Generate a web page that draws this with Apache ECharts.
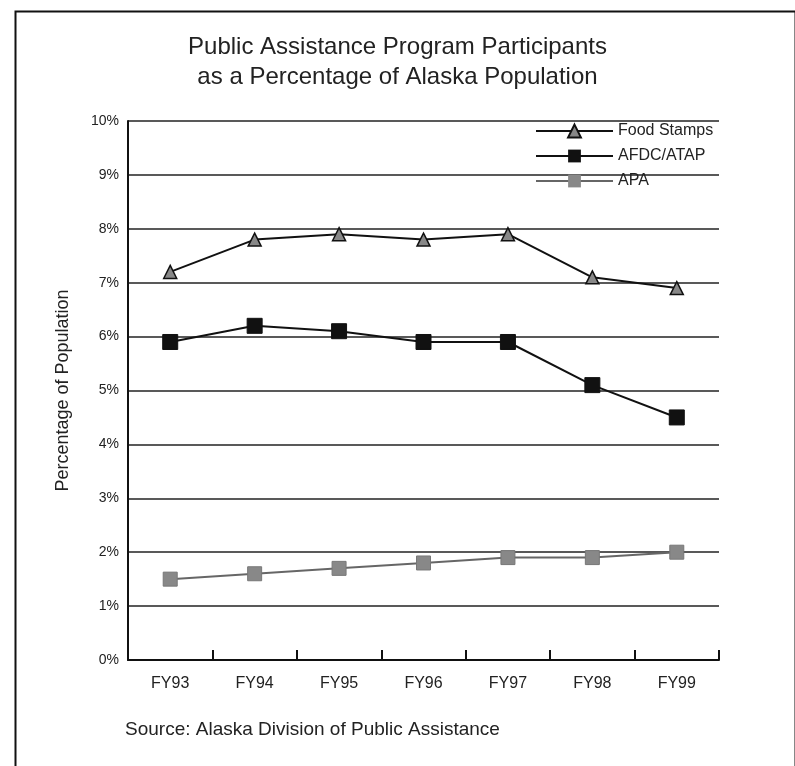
<!DOCTYPE html>
<html><head><meta charset="utf-8">
<script src="https://cdn.jsdelivr.net/npm/echarts@6/dist/echarts.min.js"></script>
<style>html,body{margin:0;padding:0;background:#fff}#c{width:795px;height:766px}</style>
</head><body><div id="c"></div>
<script>
var categories = ['FY93','FY94','FY95','FY96','FY97','FY98','FY99'];
var foodStamps = [7.2, 7.8, 7.9, 7.8, 7.9, 7.1, 6.9];
var afdcAtap   = [5.9, 6.2, 6.1, 5.9, 5.9, 5.1, 4.5];
var apa        = [1.5, 1.6, 1.7, 1.8, 1.9, 1.9, 2.0];
var seriesNames = ['Food Stamps','AFDC/ATAP','APA'];

var chart = echarts.init(document.getElementById('c'));
var font = 'Liberation Sans, Arial, sans-serif';
chart.setOption({
  backgroundColor: '#fff',
  animation: false,
  title: {
    text: 'Public Assistance Program Participants\nas a Percentage of Alaska Population',
    left: 'center', top: 27,
    textStyle: { fontFamily: font, fontSize: 24, fontWeight: 'normal', color: '#222', lineHeight: 30 }
  },
  legend: {
    orient: 'vertical', left: 530, top: 118, itemWidth: 77, itemHeight: 16, itemGap: 9,
    data: seriesNames,
    textStyle: { fontFamily: font, fontSize: 16, color: '#222' }
  },
  grid: { left: 128, right: 76, top: 121, bottom: 106 },
  xAxis: {
    type: 'category', data: categories, boundaryGap: true,
    axisLine: { lineStyle: { color: '#111', width: 2 } },
    axisTick: { show: true, inside: true, length: 10, lineStyle: { color: '#111', width: 2 } },
    axisLabel: { fontFamily: font, fontSize: 16, color: '#222', margin: 16 }
  },
  yAxis: {
    type: 'value', min: 0, max: 10, interval: 1,
    name: 'Percentage of Population', nameLocation: 'middle', nameGap: 56, nameRotate: 90,
    nameTextStyle: { fontFamily: font, fontSize: 18, color: '#222' },
    axisLine: { show: true, lineStyle: { color: '#111', width: 2 } },
    axisTick: { show: false },
    axisLabel: { fontFamily: font, fontSize: 14, color: '#222', formatter: '{value}%', margin: 9 },
    splitLine: { lineStyle: { color: '#222', width: 1.5 } }
  },
  series: [
    { name: seriesNames[0], type: 'line', data: foodStamps, symbol: 'triangle', symbolSize: 13,
      lineStyle: { color: '#111', width: 2 }, itemStyle: { color: '#888', borderColor: '#111', borderWidth: 1.5 } },
    { name: seriesNames[1], type: 'line', data: afdcAtap, symbol: 'rect', symbolSize: 15,
      lineStyle: { color: '#111', width: 2 }, itemStyle: { color: '#111', borderColor: '#111' } },
    { name: seriesNames[2], type: 'line', data: apa, symbol: 'rect', symbolSize: 14,
      lineStyle: { color: '#666', width: 2 }, itemStyle: { color: '#888', borderColor: '#777' } }
  ],
  graphic: [
    { type: 'rect', left: 13, top: 9, shape: { width: 780, height: 770 },
      style: { fill: 'none', stroke: '#111', lineWidth: 2 } },
    { type: 'text', left: 125, top: 720,
      style: { text: 'Source: Alaska Division of Public Assistance', font: '19px ' + font, fill: '#222' } }
  ]
});
</script></body></html>
